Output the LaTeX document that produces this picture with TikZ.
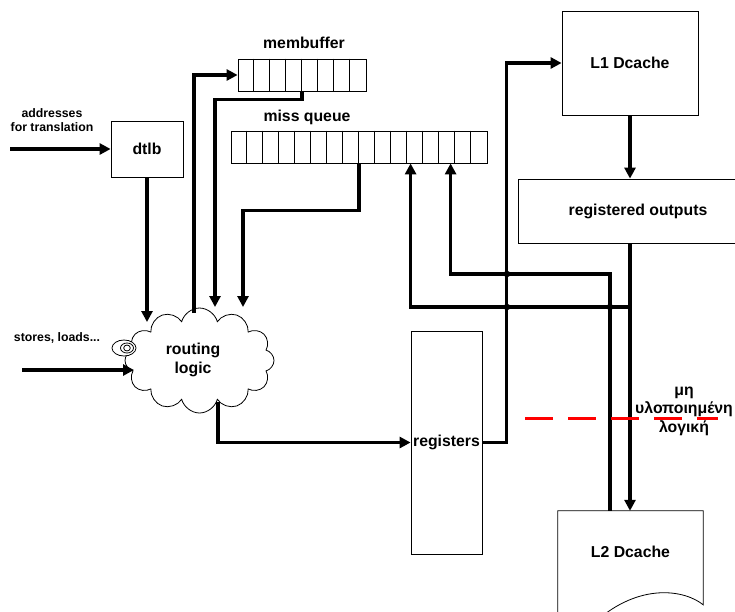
\documentclass[tikz,border=0pt]{standalone}
\usepackage{fontspec}
\setmainfont{Liberation Sans}
\usetikzlibrary{arrows.meta,shapes.symbols}
\begin{document}
\begin{tikzpicture}[x=1pt,y=-1pt,
  box/.style={draw,line width=0.8pt,fill=white,inner sep=0pt,align=center,font=\bfseries\fontsize{15.8}{18}\selectfont},
  arr/.style={line width=3.4pt,-{Triangle[length=11pt,width=11pt]}},
  lbl/.style={font=\bfseries\fontsize{12.3}{14}\selectfont,align=center,inner sep=0pt},
  big/.style={font=\bfseries\fontsize{15.8}{18.5}\selectfont,align=center,inner sep=0pt},
  hop/.style={fill,circle,inner sep=0pt,minimum size=6.5pt}]
\path[use as bounding box] (0,0) rectangle (735,611);
\clip (0,0) rectangle (735,611);
\fill[white] (0,0) rectangle (735,611);

% boxes
\node[box,minimum width=136,minimum height=104] (L1) at (630,63) {L1 Dcache};
\node[box,minimum width=72,minimum height=56] (dtlb) at (147,149) {dtlb};
\node[box,minimum width=240,minimum height=64] (regout) at (638,211) {registered outputs};
\node[box,minimum width=71,minimum height=223] (regs) at (446.5,442.5) {registers};
\node[box,minimum width=128,minimum height=32] (membuf) at (302,75) {};
\node[box,minimum width=256,minimum height=32] (missq) at (359,147) {};
\foreach \i in {1,...,7}
  \draw[line width=0.8pt] ([xshift=16*\i pt]membuf.north west) -- ([xshift=16*\i pt]membuf.south west);
\foreach \i in {1,...,15}
  \draw[line width=0.8pt] ([xshift=16*\i pt]missq.north west) -- ([xshift=16*\i pt]missq.south west);
\node[big] (mblbl) at (304,43) {membuffer};
\node[big] (mqlbl) at (307,117) {miss queue};

% L2 cache (document shape)
\node[big,minimum width=145,minimum height=82] (L2) at (630.5,552) {};
\filldraw[fill=white,line width=0.8pt] ([yshift=-110pt]L2.north west) -- (L2.north west) -- (L2.north east) -- ++(0,94)
  .. controls (685,590) and (640,582) .. (595,622);
\node[big] (L2t) at (630.5,552) {L2 Dcache};

% cloud
\node[draw,cloud,cloud puffs=12,aspect=1.42,minimum width=149,minimum height=105,inner sep=0pt,line width=0.8pt,fill=white] (logic) at (199.5,360.5) {};
\node[big] (logict) at (193,360) {routing\\logic};
\filldraw[fill=white,line width=0.8pt] (124,348) ellipse [x radius=12pt, y radius=8pt];
\draw[line width=0.8pt] (127,348) ellipse [x radius=6.5pt, y radius=5pt];
\draw[line width=0.8pt] (127,348) ellipse [x radius=3.3pt, y radius=3pt];

% labels
\node[lbl] (addr) at (52,120) {addresses\\for translation};
\node[lbl] (stores) at (57,338) {stores, loads...};

% coordinates
\coordinate (addrIn) at (10,149);
\coordinate (storesIn) at (22,370);
\coordinate (storesTip) at (134,370);
\coordinate (cDtlb) at (147,322);
\coordinate (cMb) at (194,313);
\coordinate (cMbIn) at (215,307);
\coordinate (cMq) at (243,307);
\coordinate (cOut) at (218,402);
\coordinate (br) at (630,307);

% connectors
\draw[arr] (addrIn) -- (dtlb.west);
\draw[arr] (storesIn) -- (storesTip);
\draw[arr] (dtlb.south) -- (cDtlb);
\draw[arr] (cMb) |- (membuf.west);
\draw[arr] (membuf.south) -- ++(0,8) -| (cMbIn);
\draw[arr] (missq.south) -- ++(0,47) -| (cMq);
\draw[arr] (cOut) |- (regs.west);
\draw[arr] (regs.east) -| ([xshift=-55pt]L1.west) -- (L1.west);
\draw[arr] (L1.south) -- (L1.south |- regout.north);
\draw[arr] (L1.south |- regout.south) -- (L1.south |- L2.north);
\draw[arr] (br) -| ([xshift=180pt]missq.south west);
\draw[arr] ([xshift=-20.5pt]L2.north) -- ++(0,-237) -| ([xshift=220pt]missq.south west);

% crossing marks
\node[hop] (h1) at (507,274) {};
\node[hop] (h2) at (507,307) {};
\node[hop] (h3) at (610,307) {};

% boundary line
\coordinate (d1) at (525,418);
\coordinate (d2) at (718,418);
\draw[red,line width=3pt,dash pattern=on 28pt off 15pt] (d1) -- (d2);
\node[big] (greek) at (684,411) {μη\\υλοποιημένη\\λογική};
\end{tikzpicture}
\end{document}
